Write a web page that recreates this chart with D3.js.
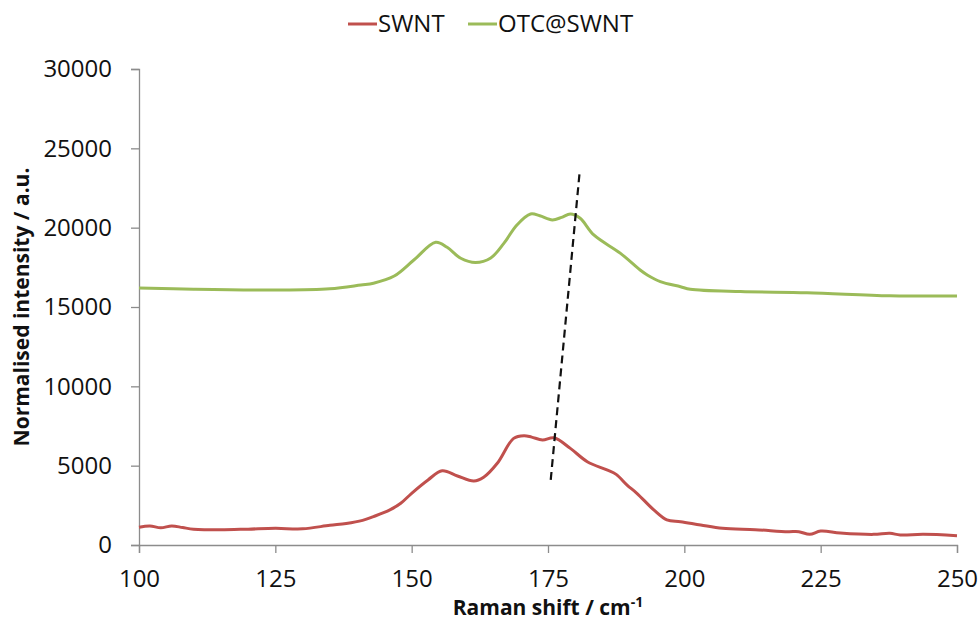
<!DOCTYPE html>
<html>
<head>
<meta charset="utf-8">
<script src="https://cdn.jsdelivr.net/npm/d3@7"></script>
<style>
  body { margin: 0; background: #fff; }
  svg { display: block; }
  text { font-family: "Open Sans", "Noto Sans", sans-serif; }
</style>
</head>
<body>
<svg id="chart" width="980" height="630"></svg>
<script>
// ---- data ----
const seriesNames = ["SWNT", "OTC@SWNT"];
const seriesColors = ["#C0504D", "#9BBB59"];

const swntX = [100,102,104,106,108,110,115,120,125,130,135,138,141,143,146,148,150,153,155.6,158.4,161.4,163.2,165.7,168.7,170.6,172,174,176.1,179.1,182.2,185.8,187.5,189.5,191.3,194.4,196.8,199.3,203,207,213,219,221,223,225,228.6,234.7,237.7,239.6,243.8,250];
const swntY = [1120,1200,1080,1200,1100,1000,960,1000,1050,1020,1240,1350,1550,1790,2210,2630,3260,4100,4680,4350,4030,4270,5150,6720,6890,6800,6620,6760,6090,5250,4730,4450,3780,3260,2210,1580,1470,1260,1050,965,840,840,670,880,760,670,740,630,670,590];

const otcX = [100,110,125,135,140.7,143,146.8,150.4,154.4,156.5,159,161.7,164.5,166.9,169.3,171.8,173.5,175.8,177.5,179.1,180.9,183.4,188.3,191.9,193.2,195.6,199.3,201.1,210.3,222.5,237.7,250];
const otcY = [16200,16120,16070,16150,16390,16500,16950,17960,19080,18760,18070,17800,18090,19010,20170,20860,20750,20490,20650,20860,20590,19540,18380,17330,17020,16600,16280,16120,15970,15900,15710,15690];

const guideX = [175.5, 180.8];
const guideY = [4100, 23500];

const xTicks = [100,125,150,175,200,225,250];
const yTicks = [0,5000,10000,15000,20000,25000,30000];

// ---- layout ----
const svg = d3.select("#chart");
const mLeft = 139, mRight = 957, mTop = 69, mBottom = 545;

const x = d3.scaleLinear().domain([100, 250]).range([mLeft, mRight]);
const y = d3.scaleLinear().domain([0, 30000]).range([mBottom, mTop]);

// axes
const xAxis = svg.append("g")
  .attr("transform", `translate(0,${mBottom})`)
  .call(d3.axisBottom(x).tickValues(xTicks).tickSize(8).tickPadding(17).tickFormat(d3.format("d")));
const yAxis = svg.append("g")
  .attr("transform", `translate(${mLeft},0)`)
  .call(d3.axisLeft(y).tickValues(yTicks).tickSize(8).tickPadding(19).tickFormat(d3.format("d")));

[xAxis, yAxis].forEach(g => {
  g.select(".domain").attr("stroke", "#8c8c8c").attr("stroke-width", 1.3);
  g.selectAll(".tick line").attr("stroke", "#8c8c8c").attr("stroke-width", 1.3);
  g.selectAll(".tick text").attr("fill", "#111").style("font-size", "24px")
    .style("font-family", '"Open Sans", sans-serif');
});

// lines
const line = d3.line().x(d => x(d[0])).y(d => y(d[1])).curve(d3.curveCatmullRom.alpha(0.5));
const swnt = swntX.map((v, i) => [v, swntY[i]]);
const otc = otcX.map((v, i) => [v, otcY[i]]);

svg.append("path").datum(swnt).attr("d", line)
  .attr("fill", "none").attr("stroke", seriesColors[0]).attr("stroke-width", 3);
svg.append("path").datum(otc).attr("d", line)
  .attr("fill", "none").attr("stroke", seriesColors[1]).attr("stroke-width", 3);

// dashed guide
svg.append("line")
  .attr("x1", x(guideX[0])).attr("y1", y(guideY[0]))
  .attr("x2", x(guideX[1])).attr("y2", y(guideY[1]))
  .attr("stroke", "#111").attr("stroke-width", 2.2).attr("stroke-dasharray", "8,5");

// legend
const legendItems = [{x: 348, tx: 378}, {x: 468, tx: 498}];
seriesNames.forEach((name, i) => {
  svg.append("line")
    .attr("x1", legendItems[i].x).attr("x2", legendItems[i].x + 29)
    .attr("y1", 24).attr("y2", 24)
    .attr("stroke", seriesColors[i]).attr("stroke-width", 3);
  svg.append("text")
    .attr("x", legendItems[i].tx).attr("y", 32)
    .style("font-size", "24px").attr("fill", "#111")
    .text(name);
});

// axis titles
const xt = svg.append("text")
  .attr("x", (mLeft + mRight) / 2).attr("y", 615)
  .attr("text-anchor", "middle")
  .style("font-size", "21px").style("font-weight", "bold").attr("fill", "#111");
xt.append("tspan").text("Raman shift / cm");
xt.append("tspan").attr("dy", -8).style("font-size", "14px").text("-1");

svg.append("text")
  .attr("transform", `translate(29,${(mTop + mBottom) / 2}) rotate(-90)`)
  .attr("text-anchor", "middle")
  .style("font-size", "21px").style("font-weight", "bold").attr("fill", "#111")
  .text("Normalised intensity / a.u.");
</script>
</body>
</html>
